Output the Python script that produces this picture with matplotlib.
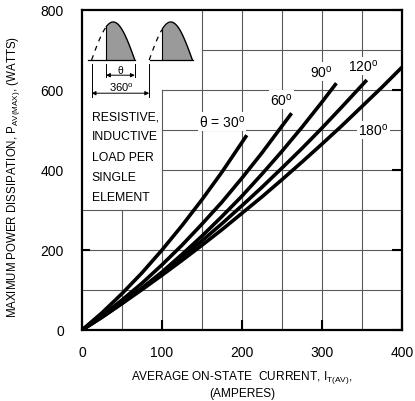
import numpy as np
import matplotlib.pyplot as plt

plt.rcParams['font.family'] = 'Liberation Sans'
plt.rcParams['mathtext.fontset'] = 'custom'
plt.rcParams['mathtext.rm'] = 'Liberation Sans'
plt.rcParams['mathtext.it'] = 'Liberation Sans:italic'

# average on-state current (A) vs max power dissipation (W), per conduction angle
i_30 = [0, 25, 50, 75, 100, 125, 150, 175, 206]
p_30 = [0, 43, 91, 143, 200, 261, 326, 395, 487]
i_60 = [0, 25, 50, 75, 100, 125, 150, 175, 200, 225, 262]
p_60 = [0, 36, 75, 117, 163, 212, 265, 320, 380, 443, 542]
i_90 = [0, 25, 50, 75, 100, 125, 150, 175, 200, 225, 250, 275, 300, 318]
p_90 = [0, 32, 67, 105, 145, 189, 235, 284, 335, 390, 447, 507, 570, 617]
i_120 = [0, 25, 50, 75, 100, 125, 150, 175, 200, 225, 250, 275, 300, 325, 356]
p_120 = [0, 33, 68, 104, 142, 182, 223, 266, 311, 357, 405, 454, 505, 558, 625]
i_180 = [0, 25, 50, 75, 100, 125, 150, 175, 200, 225, 250, 275, 300, 325, 350, 375, 400]
p_180 = [0, 32, 66, 101, 137, 174, 212, 251, 292, 333, 376, 420, 465, 511, 559, 607, 657]

curves = [(i_30, p_30), (i_60, p_60), (i_90, p_90), (i_120, p_120), (i_180, p_180)]
curve_labels = [r'θ = 30$^{\mathrm{o}}$', r'60$^{\mathrm{o}}$', r'90$^{\mathrm{o}}$',
                r'120$^{\mathrm{o}}$', r'180$^{\mathrm{o}}$']
label_pos = [(175, 522), (249, 577), (299, 647), (351, 660), (364, 500)]

x_ticks = [0, 100, 200, 300, 400]
y_ticks = [0, 200, 400, 600, 800]

# grid segments, left clear where the notes sit
v_grid = [(50, 0, 300), (100, 0, 600), (150, 0, 800), (200, 0, 800),
          (250, 0, 800), (300, 0, 800), (350, 0, 800)]
h_grid = [(100, 0, 400), (200, 0, 400), (300, 0, 400), (400, 100, 400),
          (500, 100, 400), (600, 100, 400), (700, 150, 400)]

fig = plt.figure(figsize=(4.15, 4.02), dpi=100)
ax = fig.add_axes([82 / 415, 71 / 402, 320 / 415, 320 / 402])
ax.set_xlim(0, 400)
ax.set_ylim(0, 800)

grid_kw = dict(color='#5a5a5a', lw=0.8, zorder=1)
for x, y0, y1 in v_grid:
    ax.plot([x, x], [y0, y1], **grid_kw)
for y, x0, x1 in h_grid:
    ax.plot([x0, x1], [y, y], **grid_kw)

for (ii, pp) in curves:
    ax.plot(ii, pp, color='black', lw=2.6, solid_capstyle='butt',
            solid_joinstyle='round', zorder=3)

for text, (x, y) in zip(curve_labels, label_pos):
    ax.text(x, y, text, fontsize=10, ha='center', va='center', zorder=4,
            bbox=dict(facecolor='white', edgecolor='none', pad=1.0))

ax.text(12, 549, 'RESISTIVE,\nINDUCTIVE\nLOAD PER\nSINGLE\nELEMENT', fontsize=8.8,
        ha='left', va='top', linespacing=1.9)

# waveform sketch: two half-sine pulses, conduction part shaded
base, peak = 675, 770
for x_start, x_shade, width in [(12, 30, 54), (84, 100, 54)]:
    xs = np.linspace(x_start, x_start + width, 80)
    ys = base + (peak - base) * np.sin(np.pi * (xs - x_start) / width)
    on = xs >= x_shade
    ax.plot(xs[~on], ys[~on], color='black', lw=0.9, ls=(0, (4, 4)))
    ax.fill_between(xs[on], base, ys[on], color='#9a9a9a', lw=0)
    ax.plot(xs[on], ys[on], color='black', lw=1.0)
    ax.plot([x_shade, x_shade], [base, ys[on][0]], color='black', lw=0.8)
ax.plot([8, 66], [base, base], color='black', lw=0.9)
ax.plot([85, 139], [base, base], color='black', lw=0.9)

dim_kw = dict(color='black', lw=0.7)
for x in (12, 84):
    ax.plot([x, x], [582, 665], **dim_kw)
for x in (30, 66):
    ax.plot([x, x], [632, 665], **dim_kw)
arrow = dict(arrowstyle='<|-|>', lw=0.7, color='black', mutation_scale=6,
             shrinkA=0, shrinkB=0)
ax.annotate('', xy=(66, 637), xytext=(30, 637), arrowprops=arrow)
ax.annotate('', xy=(84, 592), xytext=(12, 592), arrowprops=arrow)
ax.text(48, 651, 'θ', fontsize=7.5, ha='center', va='center')
ax.text(49, 607, r'360$^{\mathrm{o}}$', fontsize=8, ha='center', va='center')

for side in ax.spines.values():
    side.set_linewidth(1.6)
ax.set_xticks(x_ticks)
ax.set_yticks(y_ticks)
ax.tick_params(direction='in', length=7, width=1.5, labelsize=10, right=True,
               left=False)
ax.tick_params(axis='y', pad=13)
ax.tick_params(axis='x', pad=11)
ax.plot([0, 9], [200, 200], color='black', lw=1.5, clip_on=False)

ax.set_xlabel('AVERAGE ON-STATE  CURRENT, I$_{\\mathrm{T(AV)}}$,\n(AMPERES)',
              fontsize=8.6, linespacing=1.2)
ax.xaxis.set_label_coords(0.5, -0.12)
ax.set_ylabel('MAXIMUM POWER DISSIPATION, P$_{\\mathrm{AV(MAX)}}$, (WATTS)',
              fontsize=8.3, va='center')
ax.yaxis.set_label_coords(-0.2125, 0.48)

fig.savefig('out.png', dpi=100)
